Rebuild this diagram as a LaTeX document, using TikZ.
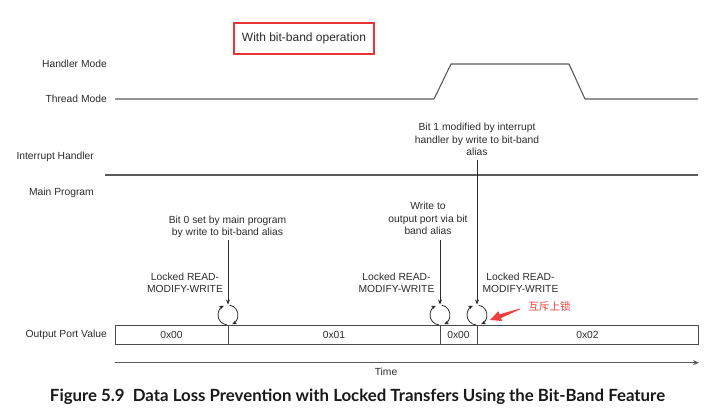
\documentclass[tikz,border=0pt]{standalone}
\usepackage{fontspec}
\setmainfont{Liberation Sans}
\newfontfamily\cjk{Noto Sans CJK SC}
\newfontfamily\capfont{Lato}
\usetikzlibrary{arrows.meta,calc}
\definecolor{ink}{HTML}{2B2B2B}
\definecolor{lineg}{HTML}{5A5A5A}
\definecolor{redbox}{RGB}{232,52,52}
\definecolor{redtxt}{RGB}{238,64,64}
\begin{document}
\begin{tikzpicture}[x=1pt,y=-1pt,
  lbl/.style={inner sep=0pt, font=\fontsize{10.3}{12.5}\selectfont, text=ink},
  note/.style={lbl, align=center},
  locknote/.style={inner sep=0pt, align=center, font=\fontsize{10.3}{11.7}\selectfont, text=ink},
  wire/.style={draw=lineg, line width=1.1pt},
  boxline/.style={draw=ink!85, line width=0.9pt},
  arr/.style={draw=ink, line width=0.8pt, -{Stealth[length=5pt,width=4pt]}},
  loopar/.style={draw=ink, line width=0.8pt, -{Stealth[length=4.5pt,width=4pt]}},
]
\useasboundingbox (0,0) rectangle (713,413);

% title box
\node[draw=redbox, line width=2pt, minimum width=140pt, minimum height=31pt, inner sep=0pt,
      font=\fontsize{12}{14}\selectfont, text=ink] (title) at (304,38.3) {With bit-band operation};

% row labels
\node[lbl, anchor=east] (hm) at (107,64) {Handler Mode};
\node[lbl, anchor=east] (tm) at (107,99) {Thread Mode};
\node[lbl, anchor=east] (ih) at (94,157) {Interrupt Handler};
\node[lbl, anchor=east] (mp) at (94,193) {Main Program};
\node[lbl, anchor=east] (opv) at (107,335) {Output Port Value};

% thread / handler waveform
\draw[wire, line join=round] (115,99) -- (434,99) -- (451,64) -- (569,64) -- (585,99) -- (698,99);
% main program / interrupt handler line
\draw[wire] (105,175) -- (698,175);

% output port value box
\draw[boxline] (115,325) rectangle (698,344);
\draw[boxline] (228,325) -- (228,344);
\draw[boxline] (440,325) -- (440,344);
\draw[boxline] (477,325) -- (477,344);
\node[lbl] (v0) at (171.5,335) {0x00};
\node[lbl] (v1) at (334,335) {0x01};
\node[lbl] (v2) at (458.5,335) {0x00};
\node[lbl] (v3) at (587.5,335) {0x02};

% circles
\coordinate (c0) at (228,315);
\coordinate (c1) at (440,315);
\coordinate (c2) at (477,315);
\coordinate (t0) at (228,304.5);
\coordinate (t1) at (440,304.5);
\coordinate (t2) at (477,304.5);
\foreach \c in {c0,c1,c2}{
  \draw[loopar] (\c) ++(-265:10) arc[start angle=-265, end angle=-115, radius=10];
  \draw[loopar] (\c) ++(-80:10) arc[start angle=-80, end angle=65, radius=10];
}

% notes
\node[note] (b0) at (227.5,226.6) {Bit 0 set by main program\\by write to bit-band alias};
\node[note] (wr) at (428,218.5) {Write to\\output port via bit\\band alias};
\node[note] (b1) at (477,139.5) {Bit 1 modified by interrupt\\handler by write to bit-band\\alias};
\node[locknote] (l0) at (185,282.5) {Locked READ-\\MODIFY-WRITE};
\node[locknote] (l1) at (396.5,282.5) {Locked READ-\\MODIFY-WRITE};
\node[locknote] (l2) at (520.5,282.5) {Locked READ-\\MODIFY-WRITE};

\draw[arr] ([yshift=-2pt]b0.south -| t0) -- (t0);
\draw[arr] ([yshift=-5pt]wr.south -| t1) -- (t1);
\draw[arr] ([yshift=-4pt]b1.south -| t2) -- (t2);

% red annotation
\node[inner sep=0pt, text=redtxt, font=\cjk\fontsize{10.6}{12}\selectfont] (mx) at (549.5,306) {互斥上锁};
\fill[redtxt] (520.4,308.4) -- (499.6,314.3) -- (498.4,311.2) -- (490,320) -- (502.2,321.0) -- (501.0,318.1) -- (519.8,309.4) -- cycle;

% time axis
\coordinate (ts) at (115,362.7);
\coordinate (te) at (699,362.7);
\draw[draw=lineg, line width=1.1pt, -{Stealth[length=6pt,width=5pt]}] (ts) -- (te);
\node[lbl] (time) at (386,372.3) {Time};

% caption
\node[inner sep=0pt, text=black!90] (cap) at (357.5,397)
  {\resizebox{615pt}{!}{\capfont\bfseries\fontsize{14}{16}\selectfont Figure 5.9\ \ Data Loss Prevention with Locked Transfers Using the Bit-Band Feature}};
\end{tikzpicture}
\end{document}
